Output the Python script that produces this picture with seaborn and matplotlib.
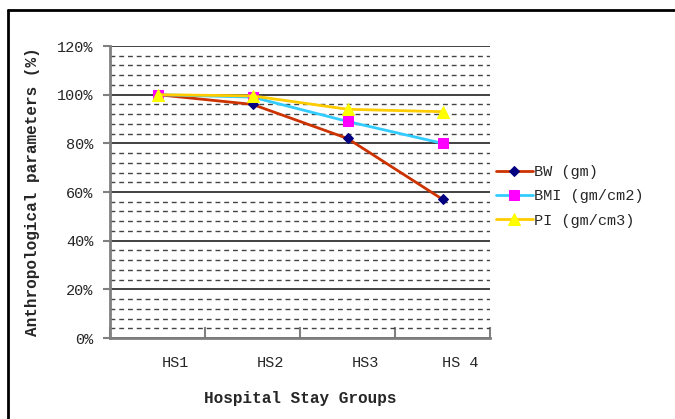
import numpy as np
import pandas as pd
import seaborn as sns
import matplotlib
matplotlib.use("Agg")
import matplotlib.pyplot as plt
from matplotlib.ticker import MultipleLocator, FixedLocator, FuncFormatter
from matplotlib.transforms import ScaledTranslation
from matplotlib.lines import Line2D

groups = ["HS1", "HS2", "HS3", "HS 4"]
bw = [100, 96, 82, 57]
bmi = [100, 99, 89, 80]
pi = [100, 99.5, 94, 93]
series_names = ["BW (gm)", "BMI (gm/cm2)", "PI (gm/cm3)"]
y_ticks = [0, 20, 40, 60, 80, 100, 120]

sns.set_theme(style="white")
plt.rcParams['font.family'] = ['Liberation Mono', 'DejaVu Sans Mono']

W, H = 675, 419
fig = plt.figure(figsize=(W / 100, H / 100), dpi=100)
ax = fig.add_axes([110 / W, (H - 338) / H, 380 / W, 292 / H])

x = np.arange(len(groups))
styles = [
    dict(color="#CC3300", marker="D", markersize=5, markerfacecolor="#000080", markeredgecolor="#000080"),
    dict(color="#33CCFF", marker="s", markersize=7, markerfacecolor="#FF00FF", markeredgecolor="#FF00FF"),
    dict(color="#FFCC00", marker="^", markersize=8, markerfacecolor="#FFFF00", markeredgecolor="#FFFF00"),
]
for name, vals, st in zip(series_names, [bw, bmi, pi], styles):
    sns.lineplot(x=x, y=vals, ax=ax, label=name, linewidth=2, **st)

ax.set_xlim(-0.5, len(groups) - 0.5)
ax.set_ylim(0, 120)

# y axis
ax.yaxis.set_major_locator(FixedLocator(y_ticks))
ax.yaxis.set_major_formatter(FuncFormatter(lambda v, p: f"{int(v)}%"))
ax.yaxis.set_minor_locator(MultipleLocator(4))
ax.tick_params(axis="y", which="major", direction="out", length=5, width=1.5,
               color="#808080", pad=7, labelsize=11, left=True)
ax.tick_params(axis="y", which="minor", length=0)
ax.grid(False)
ax.yaxis.grid(True, which="major", color="#333333", linewidth=1.3)
ax.yaxis.grid(True, which="minor", color="#444444", linewidth=1.0, linestyle=(0, (3.5, 2.8)))
ax.set_axisbelow(True)

# x axis: boundary ticks and centered labels
ax.xaxis.set_major_locator(FixedLocator(np.arange(len(groups) + 1) - 0.5))
ax.xaxis.set_major_formatter(FuncFormatter(lambda v, p: ""))
ax.xaxis.set_minor_locator(FixedLocator(x))
ax.set_xticklabels(groups, minor=True)
ax.tick_params(axis="x", which="major", direction="in", length=8, width=1.5,
               color="#808080", bottom=True)
ax.tick_params(axis="x", which="minor", length=0, pad=13, labelsize=11, bottom=True)
off = ScaledTranslation(0.18, 0, fig.dpi_scale_trans)
for lab in ax.xaxis.get_minorticklabels():
    lab.set_transform(lab.get_transform() + off)

for s in ["top", "right"]:
    ax.spines[s].set_visible(False)
for s in ["left", "bottom"]:
    ax.spines[s].set_color("#808080")
    ax.spines[s].set_linewidth(2)

ax.set_xlabel("Hospital Stay Groups", fontsize=11.5, fontweight="bold", va="top")
ax.xaxis.set_label_coords(0.5, -0.182)
ax.set_ylabel("Anthropological parameters (%)", fontsize=11.5, fontweight="bold")
ax.yaxis.set_label_coords(-0.184, 0.5)

handles, labels = ax.get_legend_handles_labels()
ax.get_legend().remove()
fig.legend(handles, labels, loc="upper left", bbox_to_anchor=(496 / W, 1 - 165 / H),
           frameon=False, fontsize=11, handlelength=2.4, handletextpad=0.1,
           labelspacing=0.68, borderpad=0, borderaxespad=0)

# figure border (top and left)
fig.add_artist(Line2D([8 / W, 1], [1 - 10 / H] * 2, color="black", linewidth=2,
                      transform=fig.transFigure))
fig.add_artist(Line2D([8 / W, 8 / W], [0, 1 - 10 / H], color="black", linewidth=2,
                      transform=fig.transFigure))

fig.savefig("out.png", dpi=100)
